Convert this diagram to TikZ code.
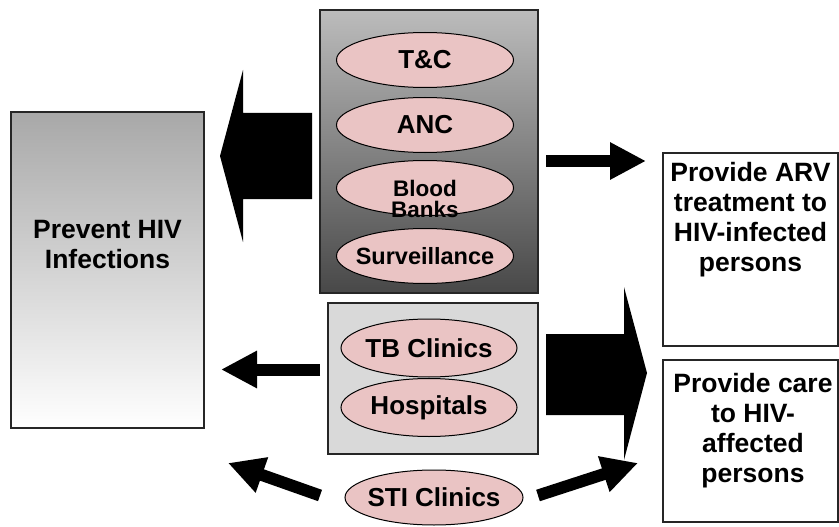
\documentclass[tikz,border=0pt]{standalone}
\usepackage{fontspec}
\setmainfont{Liberation Sans}
\usetikzlibrary{arrows.meta,shapes.geometric}
\definecolor{pinkc}{RGB}{234,196,196}
\definecolor{lbox}{RGB}{217,217,217}
\definecolor{tboxtop}{RGB}{188,188,188}
\definecolor{tboxbot}{RGB}{72,72,72}
\definecolor{pboxtop}{RGB}{168,168,168}
\begin{document}
\begin{tikzpicture}[x=1pt,y=-1pt,
  frame/.style={rectangle, draw=black!85, line width=1.3pt, inner sep=0pt},
  pill/.style={ellipse, draw=black, line width=1pt, fill=pinkc, minimum width=177pt, minimum height=55pt, inner sep=0pt},
  pilltext/.style={align=center, inner sep=0pt, font=\bfseries\fontsize{26}{30}\selectfont},
  boxtext/.style={align=center, inner sep=0pt, font=\bfseries\fontsize{26.5}{30}\selectfont},
  thinarrow/.style={line width=12pt, -{Triangle[width=35pt,length=36pt]}},
  blockarrow/.style={fill=black}]
\useasboundingbox (0,0) rectangle (839,527);

% boxes
\node[frame, minimum width=193pt, minimum height=316pt, top color=pboxtop, bottom color=white] (prevent) at (107.5,270) {};
\node[frame, minimum width=218pt, minimum height=283pt, top color=tboxtop, bottom color=tboxbot] (topgrp) at (429,151.5) {};
\node[frame, minimum width=210pt, minimum height=151pt, fill=lbox] (lowgrp) at (433,378.5) {};
\node[frame, minimum width=175pt, minimum height=193pt, fill=white] (arv) at (750.5,249.5) {};
\node[frame, minimum width=175pt, minimum height=162pt, fill=white] (care) at (750.5,441) {};

% box texts
\node[boxtext] (preventtxt) at (107.5,245) {Prevent HIV\\Infections};
\node[boxtext] (arvtxt) at (750.5,220) {Provide ARV\\treatment to\\HIV-infected\\persons};
\node[boxtext] (caretxt) at (753,431) {Provide care\\to HIV-\\affected\\persons};

% ellipses
\node[pill] (tc) at (425,60) {};
\node[pilltext] (tctxt) at (tc.center) {T\&C};
\node[pill] (anc) at (425,125) {};
\node[pilltext] (anctxt) at (anc.center) {ANC};
\node[pill] (bb) at (425,188) {};
\node[pilltext, font=\bfseries\fontsize{22.5}{21}\selectfont] (bbtxt) at (425,199) {Blood\\Banks};
\node[pill] (surv) at (425,256) {};
\node[pilltext, font=\bfseries\fontsize{23.5}{28}\selectfont] (survtxt) at (surv.center) {Surveillance};
\node[pill, minimum height=58pt, minimum width=176pt] (tb) at (429,348) {};
\node[pilltext] (tbtxt) at (tb.center) {TB Clinics};
\node[pill, minimum height=58pt, minimum width=176pt] (hosp) at (429,407.5) {};
\node[pilltext] (hosptxt) at (hosp.center) {Hospitals};
\node[pill, minimum width=178pt] (sti) at (434,497.5) {};
\node[pilltext] (stitxt) at (sti.center) {STI Clinics};

% block arrows
\fill[blockarrow] (312,113) -- (243,113) -- (243,70) -- (220,156) -- (243,242) -- (243,199) -- (312,199) -- cycle;
\fill[blockarrow] (546,334) -- (624,334) -- (624,287) -- (647,373) -- (624,460) -- (624,415) -- (546,415) -- cycle;

% thin arrows
\coordinate (a1s) at (546,161);
\coordinate (a1e) at (646,161);
\coordinate (a2s) at (320,369.5);
\coordinate (a2e) at (221,369.5);
\coordinate (a3s) at (320,495.5);
\coordinate (a3e) at (228,463);
\coordinate (a4s) at (538,495.5);
\coordinate (a4e) at (638,463);
\draw[thinarrow] (a1s) -- (a1e);
\draw[thinarrow] (a2s) -- (a2e);
\draw[thinarrow] (a3s) -- (a3e);
\draw[thinarrow] (a4s) -- (a4e);
\end{tikzpicture}
\end{document}
